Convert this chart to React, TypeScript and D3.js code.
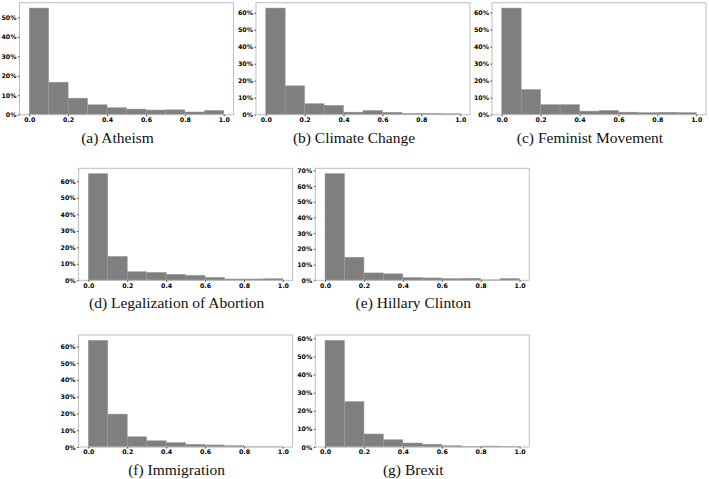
import { useEffect, useRef } from 'react';
import * as d3 from 'd3';

// bin edges 0.0, 0.1, ... 1.0 ; values are % of users
const binEdges = [0, 0.1, 0.2, 0.3, 0.4, 0.5, 0.6, 0.7, 0.8, 0.9, 1.0];
const xTicks = [0, 0.2, 0.4, 0.6, 0.8, 1.0];

const atheism = [54.8, 16.7, 8.5, 5.1, 3.6, 2.9, 2.4, 2.5, 1.4, 2.2];
const climate = [62.8, 17.0, 6.5, 5.5, 1.5, 2.5, 1.4, 0.8, 0.8, 0.6];
const feminist = [62.6, 14.8, 5.9, 5.9, 2.1, 2.5, 1.5, 1.2, 1.4, 1.2];
const abortion = [64.6, 14.5, 5.2, 4.8, 3.6, 3.0, 1.8, 0.8, 0.8, 1.0];
const hillary = [67.9, 14.7, 4.7, 4.1, 1.7, 1.5, 1.1, 1.3, 0.3, 1.1];
const immigration = [63.6, 19.6, 6.1, 3.7, 2.6, 1.6, 1.2, 0.8, 0.1, 0.1];
const brexit = [58.9, 25.1, 7.2, 4.0, 2.2, 1.5, 0.7, 0.3, 0.5, 0.3];

const captions = [
  '(a) Atheism',
  '(b) Climate Change',
  '(c) Feminist Movement',
  '(d) Legalization of Abortion',
  '(e) Hillary Clinton',
  '(f) Immigration',
  '(g) Brexit',
];
const series = [atheism, climate, feminist, abortion, hillary, immigration, brexit];
const yTickMax = [50, 60, 60, 60, 70, 60, 60];

// frame positions of each subplot
const layout = [
  { x: 19.5, y: 2.7 },
  { x: 256, y: 2.7 },
  { x: 492, y: 2.7 },
  { x: 78.6, y: 168.3 },
  { x: 315.3, y: 168.3 },
  { x: 78.6, y: 335 },
  { x: 315.3, y: 335 },
];
const W = 214;
const H = 112;

export default function App() {
  const ref = useRef<SVGSVGElement | null>(null);

  useEffect(() => {
    if (!ref.current) return;
    const svg = d3.select(ref.current);
    svg.selectAll('*').remove();

    series.forEach((vals, i) => {
      const pos = layout[i];
      const g = svg.append('g').attr('transform', `translate(${pos.x},${pos.y})`);

      const x = d3.scaleLinear().domain([-0.05, 1.05]).range([0, W]);
      const y = d3.scaleLinear().domain([0, (d3.max(vals) as number) * 1.05]).range([H, 0]);

      // bars
      g.selectAll('.bar')
        .data(vals)
        .enter().append('rect')
        .attr('x', (_d, j) => x(binEdges[j]))
        .attr('width', (_d, j) => x(binEdges[j + 1]) - x(binEdges[j]))
        .attr('y', d => y(d))
        .attr('height', d => H - y(d))
        .attr('fill', '#7f7f7f')
        .attr('stroke', '#9a9a9a')
        .attr('stroke-width', 0.5);

      // frame
      g.append('rect')
        .attr('width', W)
        .attr('height', H)
        .attr('fill', 'none')
        .attr('stroke', '#bdbdbd')
        .attr('stroke-width', 1);

      // y axis
      const yTicks = d3.range(0, yTickMax[i] + 1, 10);
      const yAxis = g.append('g')
        .call(d3.axisLeft(y).tickValues(yTicks).tickSize(1.5).tickPadding(1.5).tickFormat(d => `${d}%`));
      yAxis.select('.domain').remove();
      yAxis.selectAll('line').attr('stroke', '#444');
      yAxis.selectAll('text')
        .attr('font-family', 'DejaVu Sans')
        .attr('font-weight', 'bold')
        .attr('font-size', '6.3px')
        .attr('fill', '#000');

      // x axis
      const xAxis = g.append('g')
        .attr('transform', `translate(0,${H})`)
        .call(d3.axisBottom(x).tickValues(xTicks).tickSize(1.5).tickPadding(1.5).tickFormat(d3.format('.1f')));
      xAxis.select('.domain').remove();
      xAxis.selectAll('line').attr('stroke', '#444');
      xAxis.selectAll('text')
        .attr('font-family', 'DejaVu Sans')
        .attr('font-weight', 'bold')
        .attr('font-size', '6.3px')
        .attr('fill', '#000');

      // caption
      g.append('text')
        .attr('x', W / 2 - 9)
        .attr('y', H + 28)
        .attr('text-anchor', 'middle')
        .attr('font-family', 'Liberation Serif')
        .attr('font-size', '15.5px')
        .attr('fill', '#111')
        .text(captions[i]);
    });
  }, []);

  return (
    <svg
      ref={ref}
      width={709}
      height={479}
      style={{ position: 'absolute', left: 0, top: 0, background: '#fff' }}
    />
  );
}
